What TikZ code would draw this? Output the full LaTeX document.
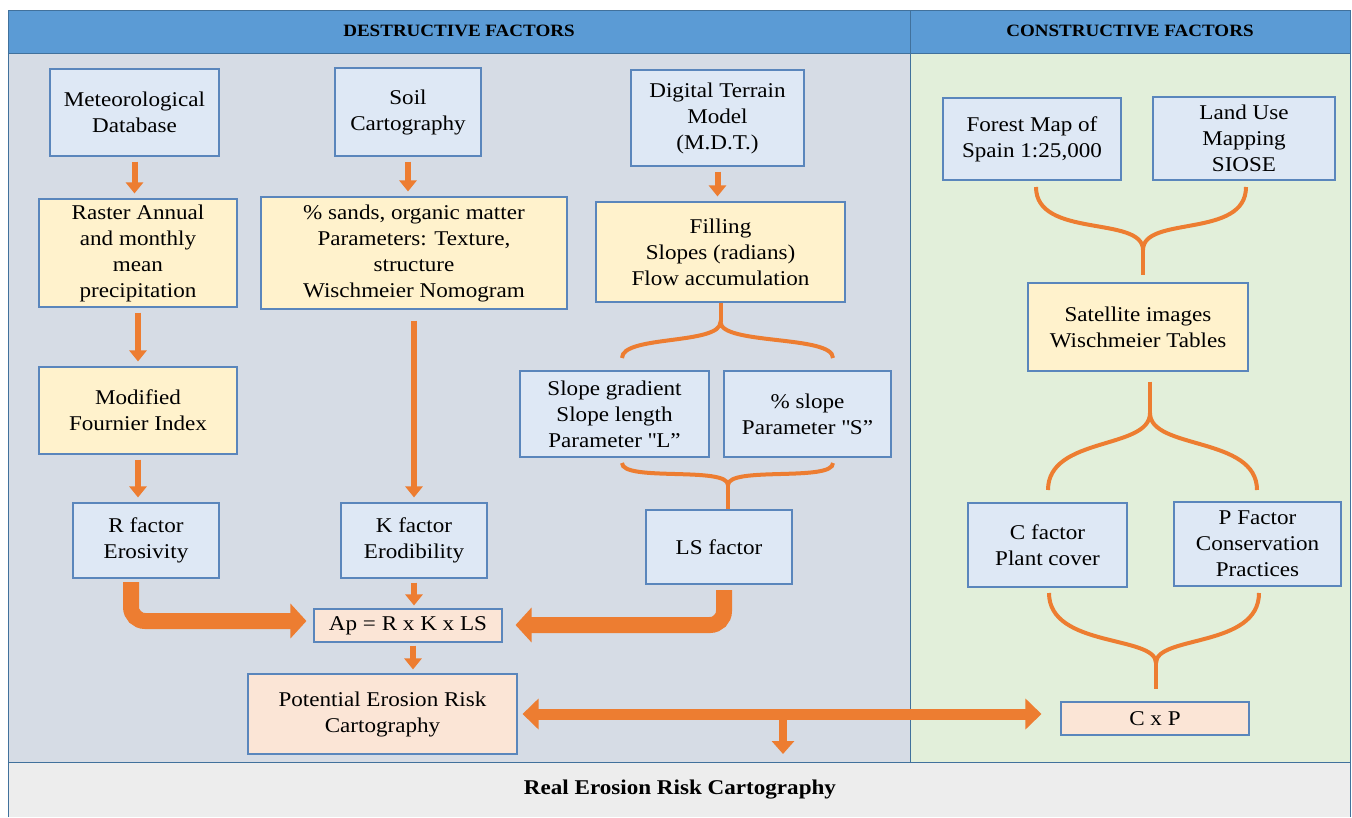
\documentclass[tikz,border=0pt]{standalone}
\usepackage{fontspec}
\setmainfont{Liberation Serif}[FakeStretch=1.1]
\usetikzlibrary{arrows.meta,calc}
\definecolor{hdr}{HTML}{5B9BD5}
\definecolor{frame}{HTML}{41719C}
\definecolor{destr}{HTML}{D6DCE5}
\definecolor{constr}{HTML}{E2EFDA}
\definecolor{bottombar}{HTML}{EDEDED}
\definecolor{lblue}{HTML}{DEE8F5}
\definecolor{lyellow}{HTML}{FFF2CC}
\definecolor{lpeach}{HTML}{FBE5D6}
\definecolor{bord}{HTML}{5A86BC}
\definecolor{orng}{HTML}{ED7D31}
\tikzset{
  box/.style={draw=bord, line width=1.1pt, align=center, inner sep=2pt,
    font=\fontsize{21}{26}\selectfont},
  bluebox/.style={box, fill=lblue},
  yelbox/.style={box, fill=lyellow},
  peachbox/.style={box, fill=lpeach},
  arr/.style={draw=orng, line width=6pt, -{Triangle[width=17pt,length=11pt]}, shorten <=5pt, shorten >=5pt},
  bigarr/.style={draw=orng, line width=16pt, -{Triangle[width=34pt,length=16pt]}, rounded corners=14pt},
  dblarr/.style={draw=orng, line width=11pt, {Triangle[width=30pt,length=16pt]}-{Triangle[width=30pt,length=16pt]}},
  medarr/.style={draw=orng, line width=8pt, -{Triangle[width=22pt,length=13pt]}},
  brace/.style={draw=orng, line width=4pt},
  hdrtext/.style={font=\fontsize{17.3}{20}\selectfont\bfseries}
}
\begin{document}
\begin{tikzpicture}[x=1pt,y=-1pt]
\useasboundingbox (0,0) rectangle (1352,817);
% backgrounds
\fill[white] (0,0) rectangle (1352,817);
\fill[destr] (8,53) rectangle (910,762);
\fill[constr] (910,53) rectangle (1350,762);
\fill[bottombar] (8,762) rectangle (1350,817);
\fill[hdr] (8,10) rectangle (1350,53);
\draw[frame, line width=1pt] (8,817) -- (8,10) -- (1350,10) -- (1350,817);
\draw[frame, line width=1pt] (8,53) -- (1350,53);
\draw[frame, line width=1pt] (8,762) -- (1350,762);
\draw[frame, line width=1pt] (910,10) -- (910,762);
\node[hdrtext] (hd) at (459,31) {DESTRUCTIVE FACTORS};
\node[hdrtext] (hc) at (1130,31) {CONSTRUCTIVE FACTORS};
\node[font=\fontsize{21}{24}\selectfont\bfseries] (real) at (680,790) {Real Erosion Risk Cartography};

% destructive nodes
\node[bluebox, minimum width=169pt, minimum height=87pt] (met) at (134.5,112.5) {Meteorological\\Database};
\node[bluebox, minimum width=146pt, minimum height=88pt] (soil) at (408,112) {Soil\\Cartography};
\node[bluebox, minimum width=173pt, minimum height=96pt] (dtm) at (717.5,118) {Digital Terrain\\Model\\(M.D.T.)};
\node[yelbox, minimum width=198pt, minimum height=108pt] (raster) at (138,253) {Raster Annual\\and monthly\\mean\\precipitation};
\node[yelbox, minimum width=306pt, minimum height=112pt] (sands) at (414,253) {\% sands, organic matter\\Parameters: Texture,\\structure\\Wischmeier Nomogram};
\node[yelbox, minimum width=249pt, minimum height=100pt] (fill) at (720.5,252) {Filling\\Slopes (radians)\\Flow accumulation};
\node[yelbox, minimum width=198pt, minimum height=87pt] (four) at (138,410.5) {Modified\\Fournier Index};
\node[bluebox, minimum width=146pt, minimum height=75pt] (rf) at (146,540.5) {R factor\\Erosivity};
\node[bluebox, minimum width=146pt, minimum height=75pt] (kf) at (414,540.5) {K factor\\Erodibility};
\node[peachbox, minimum width=188pt, minimum height=33pt] (ap) at (408,625.5) {Ap = R x K x LS};
\node[peachbox, minimum width=269pt, minimum height=80pt] (pot) at (382.5,714) {Potential Erosion Risk\\Cartography};
\node[bluebox, minimum width=189pt, minimum height=86pt] (sg) at (614.5,414) {Slope gradient\\Slope length\\Parameter \textquotedbl L”};
\node[bluebox, minimum width=167pt, minimum height=86pt] (ps) at (807.5,414) {\% slope\\Parameter \textquotedbl S”};
\node[bluebox, minimum width=146pt, minimum height=74pt] (ls) at (719,547) {LS factor};

% constructive nodes
\node[bluebox, minimum width=178pt, minimum height=82pt] (forest) at (1032,139) {Forest Map of\\Spain 1:25,000};
\node[bluebox, minimum width=182pt, minimum height=83pt] (land) at (1244,138.5) {Land Use\\Mapping\\SIOSE};
\node[yelbox, minimum width=220pt, minimum height=88pt] (sat) at (1138,327) {Satellite images\\Wischmeier Tables};
\node[bluebox, minimum width=159pt, minimum height=84pt] (cf) at (1047.5,545) {C factor\\Plant cover};
\node[bluebox, minimum width=167pt, minimum height=84pt] (pf) at (1257.5,544) {P Factor\\Conservation\\Practices};
\node[peachbox, minimum width=188pt, minimum height=33pt] (cxp) at (1155,718.5) {C x P};

% straight arrows
\draw[arr] (met.south) -- (met.south |- raster.north);
\draw[arr] (raster.south) -- (raster.south |- four.north);
\draw[arr] (four.south) -- (four.south |- rf.north);
\draw[arr] (soil.south) -- (soil.south |- sands.north);
\draw[arr, shorten <=11pt] (sands.south) -- (sands.south |- kf.north);
\draw[arr] (dtm.south) -- (dtm.south |- fill.north);
\draw[arr, shorten <=4pt, shorten >=3pt] (kf.south) -- (kf.south |- ap.north);
\draw[arr, shorten <=3pt, shorten >=4pt] ($(ap.south)+(5,0)$) -- ($(ap.south |- pot.north)+(5,0)$);

% elbow arrows
\coordinate (r1) at (131,582);
\coordinate (r2) at (131,621);
\draw[bigarr, shorten >=7pt] (r1) -- (r2) -- (ap.west |- r2);
\coordinate (l1) at (724,590);
\coordinate (l2) at (724,625);
\draw[bigarr, shorten >=13pt] (l1) -- (l2) -- (ap.east |- l2);

% double arrow and drop
\draw[dblarr, shorten <=5pt, shorten >=19pt] (pot.east) -- (pot.east -| cxp.west);
\coordinate (dn) at (783,714);
\coordinate (dnend) at (783,754);
\draw[medarr] (dn) -- (dnend);

% brace A: filling -> slope boxes
\coordinate (cA) at (fill.south |- 0,322);
\coordinate (eA1) at (622,358);
\coordinate (eA2) at (833,358);
\draw[brace] (fill.south) -- (cA);
\draw[brace] (eA1) .. controls +(0,-23) and +(0,23) .. (cA) .. controls +(0,23) and +(0,-23) .. (eA2);

% brace B: slope boxes -> LS
\coordinate (cB) at (728,485);
\coordinate (eB1) at (622,463);
\coordinate (eB2) at (833,463);
\draw[brace] (eB1) .. controls +(0,19) and +(0,-19) .. (cB) .. controls +(0,-19) and +(0,19) .. (eB2);
\draw[brace] (cB) -- (cB |- ls.north);

% brace C: forest/land -> satellite
\coordinate (cC) at (1143,250);
\coordinate (eC1) at (1036,187);
\coordinate (eC2) at (1246,187);
\draw[brace] (eC1) .. controls +(0,52) and +(0,-35) .. (cC) .. controls +(0,-35) and +(0,52) .. (eC2);
\draw[brace] (cC) -- ($(cC |- sat.north)+(0,-7)$);

% brace D: satellite -> C / P
\coordinate (cD) at (1150,413);
\coordinate (eD1) at (1048,490);
\coordinate (eD2) at (1257,490);
\draw[brace] ($(cD |- sat.south)+(0,10)$) -- (cD);
\draw[brace] (eD1) .. controls +(0,-54) and +(0,37) .. (cD) .. controls +(0,37) and +(0,-54) .. (eD2);

% brace E: C / P -> CxP
\coordinate (cE) at (1156,663);
\coordinate (eE1) at (1049,593);
\coordinate (eE2) at (1259,593);
\draw[brace] (eE1) .. controls +(0,55) and +(0,-28) .. (cE) .. controls +(0,-28) and +(0,55) .. (eE2);
\draw[brace] (cE) -- ($(cE |- cxp.north)+(0,-12)$);
\end{tikzpicture}
\end{document}
